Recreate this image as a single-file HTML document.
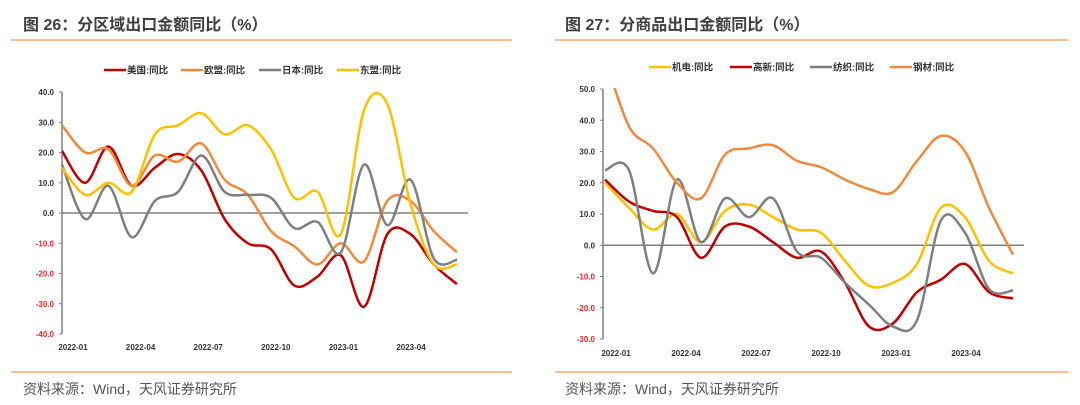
<!DOCTYPE html>
<html><head><meta charset="utf-8"><style>
body{margin:0;background:#fff;width:1080px;height:405px;overflow:hidden;font-family:"Liberation Sans","Noto Sans CJK SC",sans-serif}
svg{position:absolute;left:0;top:0}
</style></head><body>
<svg id="c" width="1080" height="405"></svg>
<script>
const NS='http://www.w3.org/2000/svg';
const months=['2022-01','2022-02','2022-03','2022-04','2022-05','2022-06','2022-07','2022-08','2022-09','2022-10','2022-11','2022-12','2023-01','2023-02','2023-03','2023-04','2023-05','2023-06'];
const tickLabels=['2022-01','2022-04','2022-07','2022-10','2023-01','2023-04'];
const leftNames=['美国:同比','欧盟:同比','日本:同比','东盟:同比'];
const usVals=[20.5,10,22,9,15,19.5,14,-2,-10,-12,-24,-21,-14,-31,-7,-7,-17,-23.5];
const euVals=[29,20,21,9,19,17,23,11,6,-6,-11,-17,-10,-16,4,4,-6,-13];
const jpVals=[16,-2,9,-8,4,7,19,7,6,5,-5,-3,-13,16,-4,11,-15,-15.5];
const aseanVals=[15,6,10,7,26,29,33,26,29,21,5,7,-7,34,36,3,-17,-17];
const leftTicks=[40,30,20,10,0,-10,-20,-30,-40];
const rightNames=['机电:同比','高新:同比','纺织:同比','钢材:同比'];
const jdVals=[20,12,5,10,1,11,13,9,5,4,-5,-13,-12,-6,12,9,-5,-9];
const gxVals=[21,14,11,9,-4,6,6,1,-4,-2,-12,-26,-25,-15,-11,-6,-15,-17];
const fzVals=[24,24,-9,21,1,15,9,15,-2,-4,-12,-19,-26,-24,8,4,-14,-14.5];
const gcVals=[60,38,31,20,15,29,31,32,27,25,21,18,17,27,35,30,12,-3];
const rightTicks=[50,40,30,20,10,0,-10,-20,-30];

const svg=document.getElementById('c');
function mk(tag,attrs,parent){const e=document.createElementNS(NS,tag);for(const k in attrs)e.setAttribute(k,attrs[k]);(parent||svg).appendChild(e);return e;}
function txt(s,attrs,parent){const e=mk('text',attrs,parent);e.textContent=s;return e;}
function smooth(pts){let d='M'+pts[0][0]+','+pts[0][1];for(let i=0;i<pts.length-1;i++){const p0=pts[i-1]||pts[i],p1=pts[i],p2=pts[i+1],p3=pts[i+2]||p2;const t=6;d+=' C'+(p1[0]+(p2[0]-p0[0])/t)+','+(p1[1]+(p2[1]-p0[1])/t)+' '+(p2[0]-(p3[0]-p1[0])/t)+','+(p2[1]-(p3[1]-p1[1])/t)+' '+p2[0]+','+p2[1];}return d;}

function panel(cfg){
  const g=mk('g',{});
  
  
  const t=txt(cfg.title,{x:cfg.tx,y:30,'font-size':16,'font-weight':'bold',fill:'#404040'},g);
  
  
  const l1=mk('line',{x1:cfg.lx1,x2:cfg.lx2,y1:40,y2:40,stroke:'#f6a868','stroke-width':1.5},g);
  
  
  const l2=mk('line',{x1:cfg.lx1,x2:cfg.lx2,y1:372,y2:372,stroke:'#f6a868','stroke-width':1.5},g);
  
  
  const s=txt('资料来源：Wind，天风证券研究所',{x:cfg.tx,y:394,'font-size':14,fill:'#555'},g);
  
  
  const {ymax,ymin,top,bot,x0,x1,axX,axEnd}=cfg;
  const Y=v=>top+(ymax-v)/(ymax-ymin)*(bot-top);
  const X=i=>x0+i*(x1-x0)/(months.length-1);
  const ya=mk('line',{x1:axX,x2:axX,y1:top,y2:bot,stroke:'#808080','stroke-width':1.5},g);
  
  
  cfg.ticks.forEach(v=>{
    const e=txt(v.toFixed(1),{x:axX-8,y:Y(v)+3,'font-size':8,'font-weight':'bold','text-anchor':'end',fill:v<0?'#ff2020':'#333'},g);
    
    
    mk('line',{x1:axX-3,x2:axX,y1:Y(v),y2:Y(v),stroke:'#808080'},g);
  });
  const xa=mk('line',{x1:axX,x2:axEnd,y1:Y(0),y2:Y(0),stroke:'#808080','stroke-width':1.5},g);
  
  
  tickLabels.forEach((m,j)=>{
    const e=txt(m,{x:cfg.lab0+j*cfg.labStep,y:cfg.labY,'font-size':8,'font-weight':'bold','text-anchor':'middle',fill:'#333'},g);
    
    
  });
  const cp=mk('clipPath',{id:cfg.name+'-clip'},g);
  mk('rect',{x:axX,y:top-1,width:axEnd-axX+10,height:bot-top+2},cp);
  cfg.series.forEach((sr,si)=>{
    const pts=sr.vals.map((v,i)=>[X(i),Y(v)]);
    const p=mk('path',{d:smooth(pts),fill:'none',stroke:sr.color,'stroke-width':2.5,'clip-path':'url(#'+cfg.name+'-clip)'},g);
    
    
    const lx=cfg.legX[si];
    const lg=mk('g',{},g);
    
    
    mk('line',{x1:lx,x2:lx+22,y1:cfg.legY,y2:cfg.legY,stroke:sr.color,'stroke-width':2.6},lg);
    txt(sr.name,{x:lx+23,y:cfg.legY+3.5,'font-size':9.5,'font-weight':'bold',fill:'#333'},lg);
  });
}
panel({name:'region-chart',title:'图 26：分区域出口金额同比（%）',tx:23,lx1:11,lx2:512,
  ymax:40,ymin:-40,top:92,bot:334,x0:62,x1:457,axX:62,axEnd:468,ticks:leftTicks,
  lab0:73,labStep:67.6,labY:350,legY:70,legX:[104,181,259,337],
  series:[{name:leftNames[0],vals:usVals,color:'#c00000'},{name:leftNames[1],vals:euVals,color:'#f08a3c'},{name:leftNames[2],vals:jpVals,color:'#7f7f7f'},{name:leftNames[3],vals:aseanVals,color:'#ffc000'}]});
panel({name:'product-chart',title:'图 27：分商品出口金额同比（%）',tx:565,lx1:555,lx2:1068,
  ymax:50,ymin:-30,top:89,bot:339,x0:605,x1:1013,axX:603,axEnd:1024,ticks:rightTicks,
  lab0:616,labStep:70,labY:356,legY:67,legX:[649,730,810,890],
  series:[{name:rightNames[0],vals:jdVals,color:'#ffc000'},{name:rightNames[1],vals:gxVals,color:'#c00000'},{name:rightNames[2],vals:fzVals,color:'#7f7f7f'},{name:rightNames[3],vals:gcVals,color:'#f08a3c'}]});
</script>
</body></html>
